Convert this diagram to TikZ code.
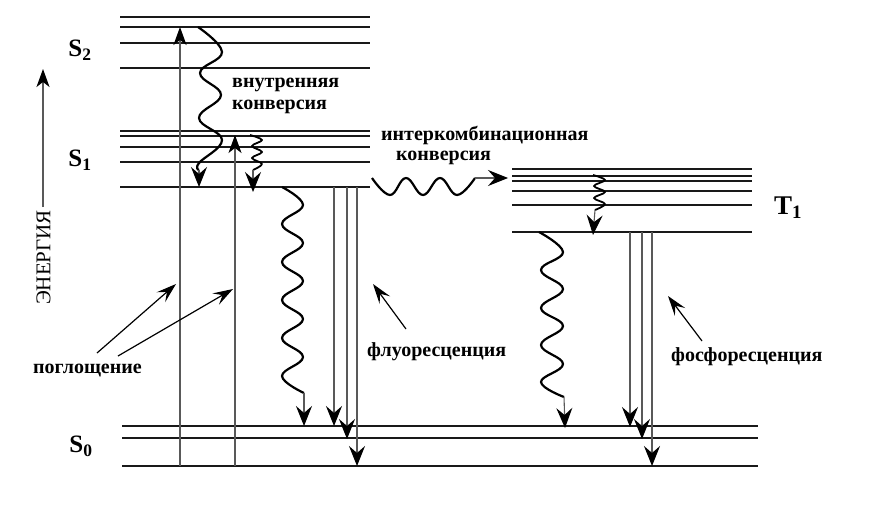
\documentclass[tikz,border=0pt]{standalone}
\usepackage{fontspec}
\setmainfont{Liberation Serif}
\usetikzlibrary{arrows.meta}
\tikzset{
  level/.style={line width=1.1pt, draw=black!90},
  vline/.style={line width=1.1pt, draw=black!65},
  bigtip/.style={-{Stealth[length=20pt,width=16pt,inset=7pt,color=black]}},
  smalltip/.style={-{Stealth[length=18pt,width=13pt,inset=5pt,color=black]}},
  wave/.style={line width=2.2pt, line join=round},
  lbl/.style={font=\bfseries\fontsize{20}{20}\selectfont, inner sep=0pt, anchor=west},
  statelbl/.style={font=\bfseries\fontsize{25}{25}\selectfont, inner sep=0pt},
  ptr/.style={line width=1.2pt, -{Stealth[length=20pt,width=13pt,inset=8pt,color=black]}}
}
\begin{document}
\begin{tikzpicture}[x=1pt,y=-1pt]
\useasboundingbox (0,0) rectangle (874,508);
% --- S2 levels
\foreach \yy in {17,27,43,68} \draw[level] (120,\yy) -- (370,\yy);
% --- S1 levels
\foreach \yy in {131,136,147,162,187} \draw[level] (120,\yy) -- (370,\yy);
% --- T1 levels
\foreach \yy in {169,176,181,191,205,232} \draw[level] (512,\yy) -- (752,\yy);
% --- S0 levels
\foreach \yy in {426,438,466} \draw[level] (122,\yy) -- (758,\yy);

% state labels
\node[statelbl] (s2) at (80,50) {S\textsubscript{2}};
\node[statelbl] (s1) at (80,160) {S\textsubscript{1}};
\node[statelbl] (s0) at (81,446) {S\textsubscript{0}};
\node[statelbl, font=\bfseries\fontsize{27}{27}\selectfont] (t1) at (788,208) {T\textsubscript{1}};

% energy axis
\coordinate (eb) at (43,207);
\coordinate (et) at (43,69);
\draw[vline, smalltip] (eb) -- (et);
\node[rotate=90, inner sep=0pt, font=\fontsize{21}{21}\selectfont] (en) at (43.5,257.5) {ЭНЕРГИЯ};

% absorption
\coordinate (a1b) at (180,466);
\coordinate (a1t) at (180,27);
\coordinate (a2b) at (235,466);
\coordinate (a2t) at (235,135);
\draw[vline, smalltip] (a1b) -- (a1t);
\draw[vline, smalltip] (a2b) -- (a2t);

% internal conversion S2 -> S1
\coordinate (ic1e) at (199,170);
\coordinate (ic1t) at (199,187);
\draw[wave] plot[smooth, tension=0.7] coordinates {(198,27) (222,52) (200,73) (221,95) (199,118) (222,140) (199,163) (199,170)};
\draw[vline, bigtip] (ic1e) -- (ic1t);
% internal relaxation in S1
\coordinate (ic2e) at (253,170);
\coordinate (ic2t) at (253,192);
\draw[wave, line width=1.8pt] plot[smooth, tension=0.6] coordinates {(250,135) (262,140) (252,146) (262,152) (252,158) (262,164) (253,170)};
\draw[vline, bigtip] (ic2e) -- (ic2t);
% internal relaxation in T1
\coordinate (ic3e) at (595,210);
\coordinate (ic3t) at (593,235);
\draw[wave, line width=1.8pt] plot[smooth, tension=0.6] coordinates {(593,175) (605,180) (594,186) (605,192) (594,198) (605,204) (595,210)};
\draw[vline, bigtip] (ic3e) -- (ic3t);

% nonradiative S1 -> S0
\coordinate (nr1e) at (304,393);
\coordinate (nr1t) at (304,426);
\draw[wave] plot[smooth, tension=0.7] coordinates {(282,187) (303,205) (282,224) (303,243) (282,262) (303,281) (282,300) (303,319) (282,338) (303,357) (282,376) (304,393)};
\draw[vline, bigtip] (nr1e) -- (nr1t);

% fluorescence
\foreach \xx/\yy in {334/426,347/439,357/466} {
  \draw[vline, bigtip] (\xx,187) -- (\xx,\yy);
}

% intersystem crossing
\coordinate (isce) at (475,178);
\coordinate (isct) at (508,178);
\draw[wave] plot[smooth, tension=0.7] coordinates {(372,178) (390,195) (406,178) (423,195) (440,178) (457,195) (475,178)};
\draw[vline, bigtip] (isce) -- (isct);

% nonradiative T1 -> S0
\coordinate (nr2e) at (564,397);
\coordinate (nr2t) at (565,428);
\draw[wave] plot[smooth, tension=0.7] coordinates {(539,232) (563,252) (541,270) (563,289) (541,308) (563,326) (541,345) (563,364) (541,382) (564,397)};
\draw[vline, bigtip] (nr2e) -- (nr2t);

% phosphorescence
\foreach \xx/\yy in {630/427,642/439,652/466} {
  \draw[vline, bigtip] (\xx,232) -- (\xx,\yy);
}

% labels
\node[lbl] (ic) at (232,85) {внутренняя};
\node[lbl] (ic2) at (232,107) {конверсия};
\node[lbl] (isc) at (381,135) {интеркомбинационная};
\node[lbl] (isc2) at (396,158) {конверсия};
\node[lbl] (abs) at (33,371) {поглощение};
\node[lbl] (fl) at (367,352) {флуоресценция};
\node[lbl] (ph) at (671,357) {фосфоресценция};

% pointer arrows
\coordinate (p1s) at (97,353);
\coordinate (p1e) at (176,284);
\coordinate (p2s) at (118,356);
\coordinate (p2e) at (233,289);
\coordinate (p3s) at (406,329);
\coordinate (p3e) at (373,284);
\coordinate (p4s) at (702,341);
\coordinate (p4e) at (668,296);
\draw[ptr] (p1s) -- (p1e);
\draw[ptr] (p2s) -- (p2e);
\draw[ptr] (p3s) -- (p3e);
\draw[ptr] (p4s) -- (p4e);
\end{tikzpicture}
\end{document}
